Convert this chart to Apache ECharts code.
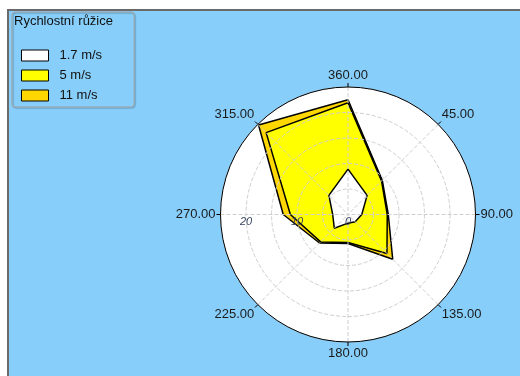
<!DOCTYPE html>
<html>
<head>
<meta charset="utf-8">
<script src="https://cdn.jsdelivr.net/npm/echarts@6/dist/echarts.min.js"></script>
<style>
  html, body { margin: 0; padding: 0; background: #ffffff; }
  #frame {
    position: absolute; left: 7px; top: 9px; width: 513px; height: 367px;
    border-left: 2px solid #6a6a6a; border-top: 2px solid #6a6a6a;
    box-sizing: border-box; overflow: hidden;
  }
  #main { width: 511px; height: 365px; }
</style>
</head>
<body>
<div id="frame"><div id="main"></div></div>
<script>
// compass directions (deg) of the rose spokes
var directions = [0, 45, 90, 135, 180, 225, 270, 315];
// outline radius of each speed class
var speed_1_7 = [8.9, 5.3, 2.7, 2.0, 1.7, 3.8, 3.0, 5.3];
var speed_5   = [21.9, 9.3, 7.7, 10.8, 5.5, 7.6, 11.3, 22.7];
var speed_11  = [22.5, 9.5, 7.9, 12.4, 5.7, 7.9, 12.7, 24.8];
var names = ['1.7 m/s', '5 m/s', '11 m/s'];
var colors = ['#ffffff', '#ffff00', '#ffd700'];

var center = [339, 203.5];
var radius = 127.5;

// angle axis starts at the left (270 deg) so the radius labels sit there
function toAngle(d) { return (d + 90) % 360; }
function toPolar(values) {
    var pts = [];
    directions.forEach(function(d, i) {
        pts.push([values[i], toAngle(d)]);
    });
    pts.sort(function(a, b) { return a[1] - b[1]; });
    pts.push([pts[0][0], 360]);   // close the polygon
    return pts;
}

function rose(name, values, color) {
    return {
        name: name,
        type: 'line',
        coordinateSystem: 'polar',
        data: toPolar(values),
        symbol: 'none',
        smooth: false,
        z: 2,
        itemStyle: { color: color },
        lineStyle: { color: '#000000', width: 1.5 },
        areaStyle: { color: color, opacity: 1 },
        silent: true,
        animation: false
    };
}

var myChart = echarts.init(document.getElementById('main'));
var option = {
    backgroundColor: '#87cefa',
    animation: false,
    textStyle: { fontFamily: 'Liberation Sans' },
    title: {
        text: 'Rychlostní růžice',
        left: 5, top: 4, padding: 0,
        textStyle: { fontSize: 13, fontWeight: 'normal', color: '#111111', fontFamily: 'Liberation Sans' }
    },
    legend: {
        orient: 'vertical',
        left: 3, top: 1,
        padding: [37, 32, 5, 9],
        backgroundColor: 'rgba(0,0,0,0)',
        borderColor: '#a3a3a3',
        borderWidth: 1,
        borderRadius: 3,
        shadowColor: 'rgba(0,0,0,0.3)',
        shadowOffsetX: 1, shadowOffsetY: 1, shadowBlur: 1,
        itemWidth: 27, itemHeight: 11, itemGap: 7,
        icon: 'rect',
        selectedMode: false,
        textStyle: { fontSize: 13, color: '#111111', padding: [0, 0, 0, 6], fontFamily: 'Liberation Sans' },
        data: names.map(function(n, i) {
            return { name: n, itemStyle: { color: colors[i], borderColor: '#000000', borderWidth: 1 } };
        })
    },
    polar: { center: center, radius: radius },
    angleAxis: {
        type: 'value', min: 0, max: 360, interval: 45,
        startAngle: 180, clockwise: true, z: 5,
        axisLine: { lineStyle: { color: '#000000', width: 1 } },
        axisTick: { show: true, length: 4, lineStyle: { color: '#000000' } },
        axisLabel: {
            margin: 5, fontSize: 13, color: '#1a1a1a', fontFamily: 'Liberation Sans',
            formatter: function(v) {
                if (v === 360) return '';
                var d = (v + 270) % 360;
                return (d === 0 ? 360 : d).toFixed(2);
            }
        },
        splitLine: { show: true, lineStyle: { color: '#cfcfcf', type: 'dashed' } }
    },
    radiusAxis: {
        type: 'value', min: 0, max: 25, interval: 5, z: 5,
        axisLine: { show: false },
        axisTick: { show: false },
        axisLabel: {
            margin: 2, fontSize: 11, fontStyle: 'italic', color: '#3a4660',
            formatter: function(v) { return v % 10 === 0 ? v : ''; }
        },
        splitLine: { show: true, lineStyle: { color: '#cfcfcf', type: 'dashed' } }
    },
    series: [
        {   // white face of the rose
            type: 'pie', center: center, radius: radius, z: 0,
            silent: true, label: { show: false }, labelLine: { show: false },
            itemStyle: { color: '#ffffff' },
            data: [{ value: 1, name: '' }]
        },
        rose(names[2], speed_11, colors[2]),
        rose(names[1], speed_5, colors[1]),
        rose(names[0], speed_1_7, colors[0])
    ]
};
option && myChart.setOption(option);
</script>
</body>
</html>
